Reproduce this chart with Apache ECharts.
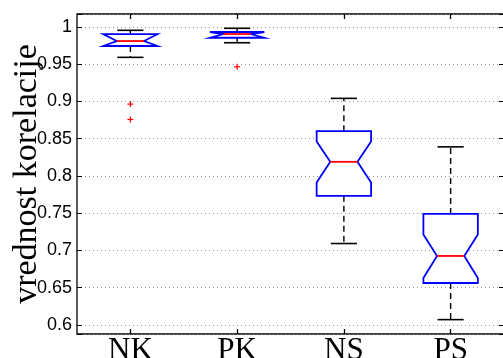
<!DOCTYPE html>
<html>
<head>
<meta charset="utf-8">
<script src="https://cdn.jsdelivr.net/npm/echarts@6/dist/echarts.min.js"></script>
<style>
html,body{margin:0;padding:0;background:#fff;}
#chart{width:503px;height:358px;}
</style>
</head>
<body>
<div id="chart"></div>
<script>
var categories = ['NK', 'PK', 'NS', 'PS'];
var lowerWhisker = [0.9593, 0.9789, 0.7093, 0.6071];
var q1 = [0.9745, 0.9856, 0.7733, 0.6563];
var notchLow = [0.9745, 0.9856, 0.7913, 0.6630];
var median = [0.9812, 0.9906, 0.8190, 0.6926];
var notchHigh = [0.9906, 0.9933, 0.8464, 0.7214];
var q3 = [0.9906, 0.9933, 0.8602, 0.7491];
var upperWhisker = [0.9956, 0.9983, 0.9042, 0.8391];
var outlierCategory = ['NK', 'NK', 'PK'];
var outlierValue = [0.8965, 0.8759, 0.9466];
var yMin = 0.5878, yMax = 1.0175;

var boxData = categories.map(function (c, i) {
  return [i, lowerWhisker[i], q1[i], notchLow[i], median[i], notchHigh[i], q3[i], upperWhisker[i]];
});
var outData = outlierCategory.map(function (c, i) {
  return [categories.indexOf(c), outlierValue[i]];
});

function renderBox(params, api) {
  var x = api.value(0);
  var band = api.size([1, 0])[0];
  var half = band * 0.255;
  var notchIn = half * 0.5;
  var capHalf = half * 0.48;
  function pt(v) { return api.coord([x, v]); }
  var cx = pt(api.value(4))[0];
  var yLW = pt(api.value(1))[1], yQ1 = pt(api.value(2))[1], yNL = pt(api.value(3))[1];
  var yMed = pt(api.value(4))[1], yNH = pt(api.value(5))[1], yQ3 = pt(api.value(6))[1], yUW = pt(api.value(7))[1];
  var L = cx - half, R = cx + half;
  var poly = [[L, yQ3], [R, yQ3], [R, yNH], [cx + notchIn, yMed], [R, yNL], [R, yQ1], [L, yQ1], [L, yNL], [cx - notchIn, yMed], [L, yNH]];
  var black = '#000';
  return {
    type: 'group',
    children: [
      {type: 'line', shape: {x1: cx, y1: yQ3, x2: cx, y2: yUW}, style: {stroke: black, lineWidth: 1.4, lineDash: [6, 4]}},
      {type: 'line', shape: {x1: cx, y1: yQ1, x2: cx, y2: yLW}, style: {stroke: black, lineWidth: 1.4, lineDash: [6, 4]}},
      {type: 'line', shape: {x1: cx - capHalf, y1: yUW, x2: cx + capHalf, y2: yUW}, style: {stroke: black, lineWidth: 1.6}},
      {type: 'line', shape: {x1: cx - capHalf, y1: yLW, x2: cx + capHalf, y2: yLW}, style: {stroke: black, lineWidth: 1.6}},
      {type: 'polygon', shape: {points: poly}, style: {fill: '#fff', stroke: '#0000ff', lineWidth: 1.8}},
      {type: 'line', shape: {x1: cx - notchIn, y1: yMed, x2: cx + notchIn, y2: yMed}, style: {stroke: '#ff0000', lineWidth: 1.8}}
    ]
  };
}

function renderOutlier(params, api) {
  var p = api.coord([api.value(0), api.value(1)]);
  var s = 3;
  return {
    type: 'group',
    children: [
      {type: 'line', shape: {x1: p[0] - s, y1: p[1], x2: p[0] + s, y2: p[1]}, style: {stroke: '#ff0000', lineWidth: 1.2}},
      {type: 'line', shape: {x1: p[0], y1: p[1] - s, x2: p[0], y2: p[1] + s}, style: {stroke: '#ff0000', lineWidth: 1.2}}
    ]
  };
}

function yLabel(v) {
  if (v < 0.6 - 1e-6 || v > 1 + 1e-6) return '';
  return String(Number(v.toFixed(2)));
}

var chart = echarts.init(document.getElementById('chart'), null, {renderer: 'canvas'});
chart.setOption({
  animation: false,
  backgroundColor: '#fff',
  grid: {left: 77, right: -1, top: 14, bottom: 24, show: true, borderColor: '#000', borderWidth: 1.3, containLabel: false, outerBoundsMode: 'none'},
  xAxis: [
    {
      type: 'category', data: categories, position: 'bottom',
      axisLine: {show: false},
      axisTick: {show: true, inside: true, alignWithLabel: true, length: 5, lineStyle: {color: '#000', width: 1.3}},
      axisLabel: {color: '#000', fontFamily: 'Liberation Serif', fontSize: 31, margin: 1},
      splitLine: {show: false}
    },
    {
      type: 'category', data: categories, position: 'top',
      axisLine: {show: false},
      axisTick: {show: true, inside: true, alignWithLabel: true, length: 5, lineStyle: {color: '#000', width: 1.3}},
      axisLabel: {show: false},
      splitLine: {show: false}
    }
  ],
  yAxis: [
    {
      type: 'value', min: yMin, max: yMax, splitNumber: 8, position: 'left',
      name: 'vrednost korelacije', nameLocation: 'middle', nameGap: 33, nameMoveOverlap: false,
      nameTextStyle: {fontFamily: 'Liberation Serif', fontSize: 34, color: '#000'},
      axisLine: {show: false},
      axisTick: {show: true, inside: true, length: 5, lineStyle: {color: '#000', width: 1}},
      axisLabel: {color: '#000', fontFamily: 'Liberation Sans', fontSize: 18, margin: 5, formatter: yLabel},
      splitLine: {show: true, lineStyle: {color: '#999', width: 1, type: [1, 3]}}
    },
    {
      type: 'value', min: yMin, max: yMax, splitNumber: 8, position: 'right',
      axisLine: {show: false},
      axisTick: {show: true, inside: true, length: 5, lineStyle: {color: '#000', width: 1}},
      axisLabel: {show: false},
      splitLine: {show: false}
    }
  ],
  series: [
    {type: 'custom', xAxisIndex: 0, yAxisIndex: 0, renderItem: renderBox, data: boxData, z: 3},
    {type: 'custom', xAxisIndex: 0, yAxisIndex: 0, renderItem: renderOutlier, data: outData, z: 4}
  ]
});
</script>
</body>
</html>
